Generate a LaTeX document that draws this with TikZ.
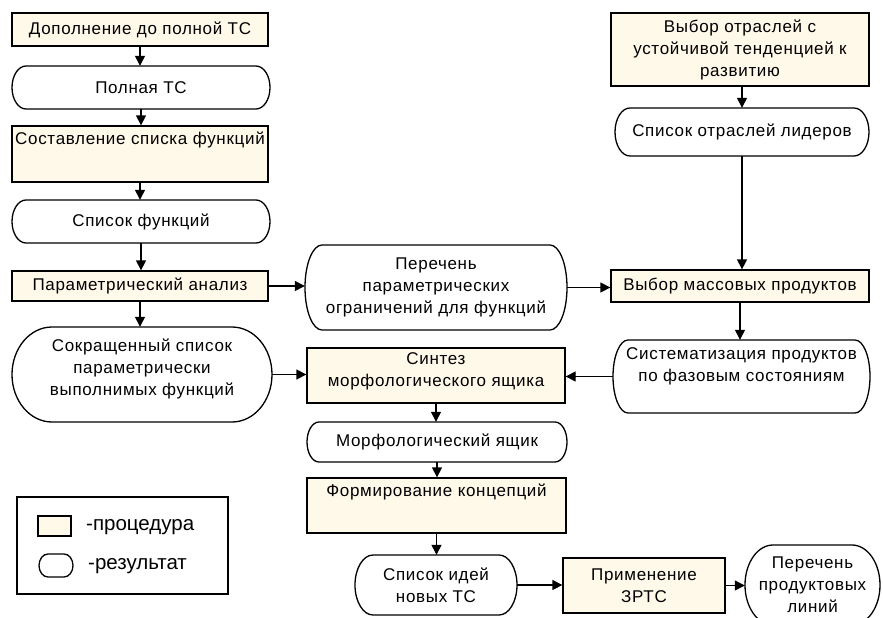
\documentclass[tikz,border=0pt]{standalone}
\usepackage{fontspec}
\setmainfont{Liberation Sans}[LetterSpace=4]
\newfontfamily\legfam{Liberation Sans}
\usetikzlibrary{arrows.meta}
\definecolor{cream}{RGB}{255,249,234}
\newcommand\fs{\fontsize{17}{22}\selectfont}
\newcommand\legfont{\legfam\fontsize{20.5}{22}\selectfont}
\newcommand\up[2]{\raisebox{#1}[0pt][0pt]{\begin{tabular}{@{}c@{}}#2\end{tabular}}}
\tikzset{
  proc/.style={draw, fill=cream, line width=1.3pt, inner sep=0pt, align=center, font=\fs},
  res/.style={inner sep=0pt, align=center, font=\fs},
  conn/.style={line width=1.3pt, -{Triangle[length=10pt,width=10pt]}},
  outline/.style={line width=1.3pt}
}
% name, x1, y1, x2, y2, r, text
\newcommand\stad[7]{%
  \pgfmathsetmacro\sw{#4-#2}\pgfmathsetmacro\sh{#5-#3}%
  \pgfmathsetmacro\sx{(#2+#4)/2}\pgfmathsetmacro\sy{(#3+#5)/2}%
  \pgfmathsetmacro\shh{(#5-#3)/2}%
  \node[res, minimum width=\sw pt, minimum height=\sh pt] (#1) at (\sx,\sy) {#7};
  \draw[outline] (#2+#6,#3) -- (#4-#6,#3)
     arc[start angle=90, end angle=-90, x radius=#6pt, y radius=\shh pt]
     -- (#2+#6,#5)
     arc[start angle=270, end angle=90, x radius=#6pt, y radius=\shh pt] -- cycle;
}
\begin{document}
\begin{tikzpicture}[x=1pt,y=-1pt]
\useasboundingbox (0,0) rectangle (883,618);
\clip (0,0) rectangle (883,618);

% left column
\node[proc, minimum width=256pt, minimum height=33pt] (p1) at (140,29.5) {Дополнение до полной ТС};
\stad{r1}{12}{66}{270}{109}{14}{Полная ТС}
\node[proc, minimum width=256pt, minimum height=56pt] (p2) at (140,154) {\up{9.5pt}{Составление списка функций}};
\stad{r2}{12}{200}{270}{243}{14}{Список функций}
\node[proc, minimum width=256pt, minimum height=30pt] (p3) at (140,286) {Параметрический анализ};
\stad{r3}{12}{327}{272}{422}{40}{\up{1pt}{Сокращенный список\\параметрически\\выполнимых функций}}

% middle column
\stad{r4}{305}{245}{567}{330}{17}{Перечень\\параметрических\\ограничений для функций}
\node[proc, minimum width=258pt, minimum height=55pt] (p4) at (436,375.5) {\up{0pt}{Синтез\\морфологического ящика}};
\stad{r5}{307}{422}{567}{462}{12}{Морфологический ящик}
\node[proc, minimum width=259pt, minimum height=55pt] (p5) at (436.5,505.5) {\up{9pt}{Формирование концепций}};
\stad{r6}{355}{555}{517}{615}{18}{Список идей\\новых ТС}
\node[proc, minimum width=162pt, minimum height=55pt] (p6) at (644,585.5) {Применение\\ЗРТС};
\stad{r7}{745}{545}{880}{625}{28}{Перечень\\продуктовых\\линий}

% right column
\node[proc, minimum width=258pt, minimum height=73pt] (p7) at (740,49.5) {Выбор отраслей с\\устойчивой тенденцией к\\развитию};
\stad{r8}{615}{108}{869}{156}{15}{Список отраслей лидеров}
\node[proc, minimum width=258pt, minimum height=32pt] (p8) at (740,286) {Выбор массовых продуктов};
\stad{r9}{613}{340}{870}{413}{15}{\up{6pt}{Систематизация продуктов\\по фазовым состояниям}}

% connectors
\draw[conn] (p1.south) -- (p1.south |- r1.north);
\draw[conn] (r1.south) -- (r1.south |- p2.north);
\draw[conn] (p2.south) -- (p2.south |- r2.north);
\draw[conn] (r2.south) -- (r2.south |- p3.north);
\draw[conn] (p3.south) -- (p3.south |- r3.north);
\draw[conn] (p3.east) -- (p3.east -| r4.west);
\draw[conn] (r4.east) -- (r4.east -| p8.west);
\draw[conn] (r3.east) -- (r3.east -| p4.west);
\draw[conn] (r9.west) -- (r9.west -| p4.east);
\draw[conn] (p4.south) -- (p4.south |- r5.north);
\draw[conn] (r5.south) -- (r5.south |- p5.north);
\draw[conn] (p5.south) -- (p5.south |- r6.north);
\draw[conn] (r6.east) -- (r6.east -| p6.west);
\draw[conn] (p6.east) -- (p6.east -| r7.west);
\draw[conn] (r8.north |- p7.south) -- (r8.north);
\draw[conn] (r8.south) -- (r8.south |- p8.north);
\draw[conn] (p8.south) -- (p8.south |- r9.north);

% legend
\node[draw, line width=1.2pt, minimum width=211pt, minimum height=97pt, inner sep=0pt] (leg) at (122.5,545.5) {};
\node[proc, minimum width=33pt, minimum height=20pt, line width=1.6pt] (legp) at (54.5,526) {};
\node[anchor=west, font=\legfont, inner sep=0pt] (legpt) at (86,527) {-процедура};
\stad{legr}{39}{554}{73}{577}{9}{}
\node[anchor=west, font=\legfont, inner sep=0pt] (legrt) at (88,566) {-результат};
\end{tikzpicture}
\end{document}
